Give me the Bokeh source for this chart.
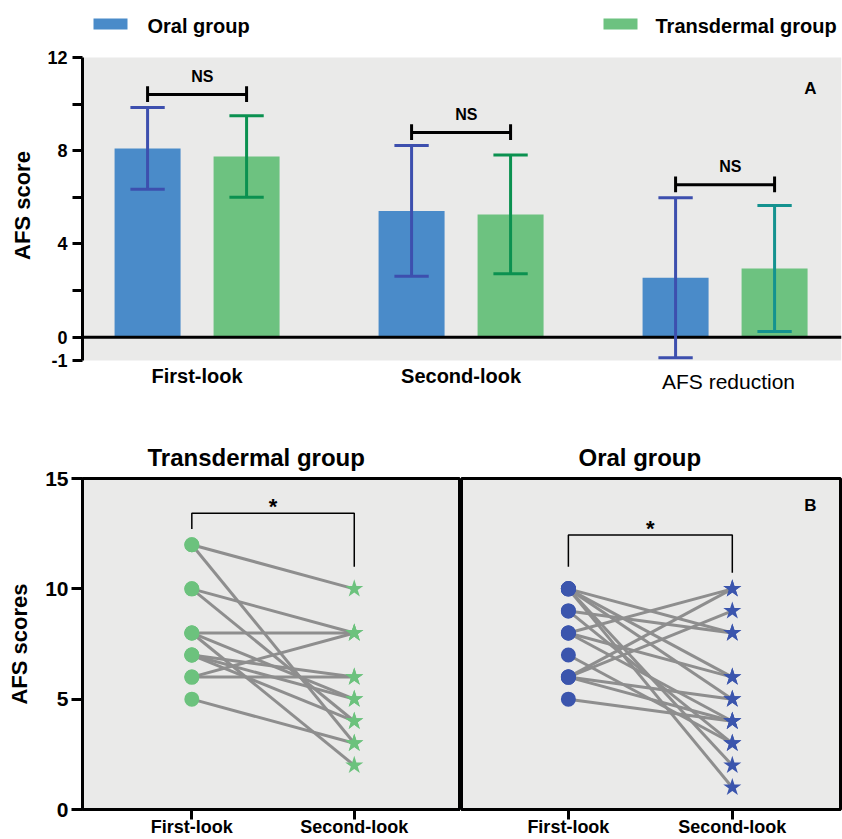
from bokeh.plotting import figure
from bokeh.models import Range1d, FixedTicker, ColumnDataSource
from bokeh.layouts import column, row
from bokeh.core.properties import value
from bokeh.embed import file_html
from bokeh.resources import INLINE

FONT = "Liberation Sans"

# ---------------- Panel A data ----------------
groups = ["First-look", "Second-look", "AFS reduction"]
oral_mean = [8.10, 5.42, 2.55]
oral_sd = [1.75, 2.80, 3.43]
trans_mean = [7.75, 5.27, 2.95]
trans_sd = [1.75, 2.55, 2.70]
legend_labels = ["Oral group", "Transdermal group"]
y_ticks_a = [-1, 0, 2, 4, 6, 8, 10, 12]
y_tick_labels_a = {-1: "-1", 0: "0", 2: "", 4: "4", 6: "", 8: "8", 10: "", 12: "12"}

# ---------------- Panel B data ----------------
timepoints = ["First-look", "Second-look"]
trans_first = [12, 12, 10, 10, 8, 8, 8, 7, 7, 7, 6, 6, 5]
trans_second = [10, 3, 8, 4, 8, 5, 2, 6, 5, 4, 8, 6, 3]
oral_first = [10, 10, 10, 10, 10, 9, 9, 8, 8, 8, 7, 6, 6, 6, 6, 5]
oral_second = [8, 6, 5, 2, 1, 8, 3, 10, 6, 4, 3, 10, 9, 5, 4, 4]
y_ticks_b = [0, 5, 10, 15]

# ---------------- styles ----------------
BLUE_BAR = "#4a8bc9"
GREEN_BAR = "#6dc280"
BG = "#eaeae9"
ORAL_ERR = "#3d4fae"
TRANS_ERR = ["#0b9150", "#0b9150", "#14928f"]
MARK_BLUE = "#3b55ad"
MARK_GREEN = "#6cc27d"
LINE_GRAY = "#8e8e8e"

# reference-pixel helpers for panel A layout positions
def rx(px):
    return -0.434 + (px - 82) / 264.0

def ry(py):
    return 12 - (py - 57) / 23.31

# ================= Panel A =================
xr = Range1d(-0.434, -0.434 + 759 / 264.0)
yr = Range1d(ry(410), ry(0))
p1 = figure(width=842, height=420, x_range=xr, y_range=yr,
            output_backend="svg", toolbar_location=None,
            min_border_left=82, min_border_right=1, min_border_top=0, min_border_bottom=10)
p1.xaxis.visible = False
p1.xgrid.visible = False
p1.ygrid.visible = False
p1.outline_line_color = None
p1.background_fill_color = "white"

yax = p1.yaxis[0]
yax.ticker = FixedTicker(ticks=y_ticks_a)
yax.major_label_overrides = y_tick_labels_a
yax.bounds = (min(y_ticks_a), max(y_ticks_a))
yax.axis_line_width = 3
yax.axis_line_color = "black"
yax.major_tick_line_width = 3
yax.major_tick_line_color = "black"
yax.major_tick_out = 10
yax.major_tick_in = 0
yax.minor_tick_out = 0
yax.minor_tick_in = 0
yax.major_label_standoff = 5
yax.major_label_text_font = FONT
yax.major_label_text_font_size = "18px"
yax.major_label_text_font_style = "bold"
yax.major_label_text_color = "black"
yax.axis_label = "AFS score"
yax.axis_label_text_font = FONT
yax.axis_label_text_font_size = "22px"
yax.axis_label_text_font_style = "bold"
yax.axis_label_text_color = "black"
yax.axis_label_standoff = 9

# gray plotting panel
p1.quad(left=[xr.start], right=[xr.end], bottom=[min(y_ticks_a)], top=[max(y_ticks_a)],
        fill_color=BG, line_color=None)

gx = list(range(len(groups)))
oral_x = [g - 0.1875 for g in gx]
trans_x = [g + 0.1875 for g in gx]

p1.vbar(x=oral_x, top=oral_mean, width=0.25, fill_color=BLUE_BAR, line_color=None)
p1.vbar(x=trans_x, top=trans_mean, width=0.25, fill_color=GREEN_BAR, line_color=None)

# zero line
p1.segment(x0=[xr.start], x1=[xr.end], y0=[0], y1=[0], line_color="black", line_width=3)

# error bars
ex = oral_x + trans_x
elo = [m - s for m, s in zip(oral_mean, oral_sd)] + [m - s for m, s in zip(trans_mean, trans_sd)]
ehi = [m + s for m, s in zip(oral_mean, oral_sd)] + [m + s for m, s in zip(trans_mean, trans_sd)]
ecol = [ORAL_ERR] * 3 + TRANS_ERR
cap = 0.065
esrc = ColumnDataSource(dict(x=ex, lo=elo, hi=ehi, c=ecol,
                             xl=[v - cap for v in ex], xr=[v + cap for v in ex]))
p1.segment(x0="x", x1="x", y0="lo", y1="hi", line_color="c", line_width=3, source=esrc)
p1.segment(x0="xl", x1="xr", y0="hi", y1="hi", line_color="c", line_width=3, source=esrc)
p1.segment(x0="xl", x1="xr", y0="lo", y1="lo", line_color="c", line_width=3, source=esrc)

# NS brackets
for i in gx:
    top = max(ehi[i], ehi[i + 3])
    yb = top + 0.56
    p1.segment(x0=[oral_x[i]], x1=[trans_x[i]], y0=[yb], y1=[yb], line_color="black", line_width=3)
    p1.segment(x0=[oral_x[i], trans_x[i]], x1=[oral_x[i], trans_x[i]],
               y0=[yb - 0.32] * 2, y1=[yb + 0.36] * 2, line_color="black", line_width=3)
    p1.text(x=[i + 0.02], y=[yb + 0.77], text=["NS"], text_font=value(FONT),
            text_font_size="16px", text_font_style="bold", text_align="center",
            text_baseline="middle", text_color="black")

# category labels
p1.text(x=gx[:2], y=[ry(375)] * 2, text=groups[:2], text_font=value(FONT),
        text_font_size="20px", text_font_style="bold", text_align="center",
        text_baseline="middle", text_color="black")
p1.text(x=[gx[2] + 0.013], y=[ry(381)], text=[groups[2]], text_font=value(FONT),
        text_font_size="21px", text_font_style="normal", text_align="center",
        text_baseline="middle", text_color="black")

# panel letter
p1.text(x=[rx(810)], y=[ry(88)], text=["A"], text_font=value(FONT),
        text_font_size="17px", text_font_style="bold", text_align="center",
        text_baseline="middle", text_color="black")

# legend
p1.rect(x=[rx(110), rx(620)], y=[ry(23.5)] * 2, width=34, height=11,
        width_units="screen", height_units="screen",
        fill_color=[BLUE_BAR, GREEN_BAR], line_color=None)
p1.text(x=[rx(147), rx(655)], y=[ry(25)] * 2, text=legend_labels, text_font=value(FONT),
        text_font_size="20px", text_font_style="bold", text_align="left",
        text_baseline="middle", text_color="black")


# ================= Panel B =================
def make_panel(width, mb_left, mb_right, xrange, title, title_offset, first, second, color, show_y):
    p = figure(width=width, height=419, x_range=Range1d(*xrange), y_range=Range1d(0, 15),
               output_backend="svg", toolbar_location=None,
               min_border_left=mb_left, min_border_right=mb_right,
               min_border_top=58, min_border_bottom=27)
    p.background_fill_color = BG
    p.border_fill_color = "white"
    p.outline_line_color = "black"
    p.outline_line_width = 3
    p.xgrid.visible = False
    p.ygrid.visible = False

    p.title.text = title
    p.title.align = "left"
    p.title.offset = title_offset
    p.title.text_font = FONT
    p.title.text_font_size = "24px"
    p.title.text_font_style = "bold"
    p.title.text_color = "black"
    p.title.standoff = 15

    xa = p.xaxis[0]
    xa.ticker = FixedTicker(ticks=[1, 2])
    xa.major_label_overrides = {1: timepoints[0], 2: timepoints[1]}
    xa.axis_line_width = 3
    xa.axis_line_color = "black"
    xa.major_tick_line_width = 3
    xa.major_tick_line_color = "black"
    xa.major_tick_out = 10
    xa.major_tick_in = 0
    xa.minor_tick_out = 0
    xa.minor_tick_in = 0
    xa.major_label_standoff = -3
    xa.major_label_text_font = FONT
    xa.major_label_text_font_size = "18px"
    xa.major_label_text_font_style = "bold"
    xa.major_label_text_color = "black"

    ya = p.yaxis[0]
    if show_y:
        ya.ticker = FixedTicker(ticks=y_ticks_b)
        ya.axis_line_width = 3
        ya.axis_line_color = "black"
        ya.major_tick_line_width = 3
        ya.major_tick_line_color = "black"
        ya.major_tick_out = 11
        ya.major_tick_in = 0
        ya.minor_tick_out = 0
        ya.minor_tick_in = 0
        ya.major_label_standoff = 3
        ya.major_label_text_font = FONT
        ya.major_label_text_font_size = "21px"
        ya.major_label_text_font_style = "bold"
        ya.major_label_text_color = "black"
        ya.axis_label = "AFS scores"
        ya.axis_label_text_font = FONT
        ya.axis_label_text_font_size = "22px"
        ya.axis_label_text_font_style = "bold"
        ya.axis_label_text_color = "black"
        ya.axis_label_standoff = 10
    else:
        ya.visible = False

    n = len(first)
    p.segment(x0=[1] * n, x1=[2] * n, y0=first, y1=second, line_color=LINE_GRAY, line_width=3)
    p.scatter(x=[1] * n, y=first, marker="circle", size=15, fill_color=color, line_color=None)
    p.scatter(x=[2] * n, y=second, marker="star", size=19, fill_color=color, line_color=None)
    return p


p2 = make_panel(460, 82, 0, (0.327, 2.654), "Transdermal group", 65,
                trans_first, trans_second, MARK_GREEN, True)
p3 = make_panel(382, 1, 2, (0.348, 2.66), "Oral group", 117,
                oral_first, oral_second, MARK_BLUE, False)

# significance brackets (panel B)
p2.line(x=[1, 1, 2, 2], y=[12.71, 13.43, 13.43, 11.0], line_color="black", line_width=1.5)
p2.text(x=[1.5], y=[13.75], text=["*"], text_font=value(FONT), text_font_size="22px",
        text_font_style="bold", text_align="center", text_baseline="middle", text_color="black")
p3.line(x=[1, 1, 2, 2], y=[11.0, 12.44, 12.44, 10.73], line_color="black", line_width=1.5)
p3.text(x=[1.5], y=[12.75], text=["*"], text_font=value(FONT), text_font_size="22px",
        text_font_style="bold", text_align="center", text_baseline="middle", text_color="black")
p3.text(x=[2.476], y=[13.79], text=["B"], text_font=value(FONT), text_font_size="17px",
        text_font_style="bold", text_align="center", text_baseline="middle", text_color="black")

layout = column(p1, row(p2, p3))
open("out.html", "w").write(file_html(layout, INLINE))
